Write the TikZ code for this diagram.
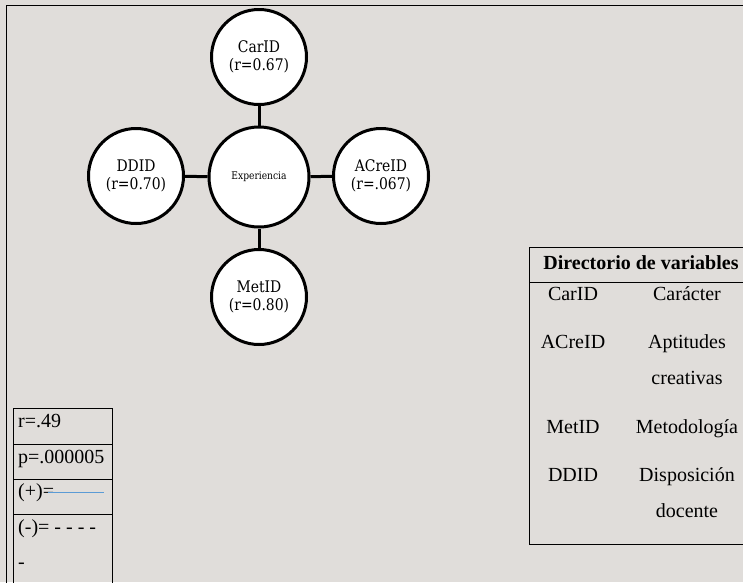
\documentclass[tikz,border=0pt]{standalone}
\usepackage{fontspec}
\setmainfont{Liberation Serif}
\newfontfamily\circfont[FakeStretch=0.87]{DejaVu Serif}
\definecolor{paper}{RGB}{224,221,218}
\definecolor{posline}{RGB}{91,155,213}
\tikzset{
  varcircle/.style={circle, draw=black, line width=3pt, fill=white, inner sep=0pt,
    minimum size=95pt, align=center, font=\circfont\fontsize{16}{18}\selectfont},
  hubcircle/.style={varcircle, minimum size=100pt, font=\circfont\fontsize{10.5}{12}\selectfont},
  link/.style={line width=3pt},
  rule/.style={line width=1pt, black},
  cell/.style={inner sep=0pt, font=\fontsize{20}{24}\selectfont},
}
\begin{document}
\begin{tikzpicture}[x=1pt, y=-1pt]
  % canvas
  \useasboundingbox (0,0) rectangle (743,582);
  \clip (0,0) rectangle (743,582);
  \fill[paper] (0,0) rectangle (743,582);
  % outer frame (open to the right and bottom)
  \draw[rule] (6,600) -- (6,5) -- (760,5);

  % variables around the hub
  \node[hubcircle] (exp) at (259,177) {Experiencia};
  \node[varcircle] (car) at (259,57) {CarID\\(r=0.67)};
  \node[varcircle] (met) at (259,297) {MetID\\(r=0.80)};
  \node[varcircle] (dd) at (136,176) {DDID\\(r=0.70)};
  \node[varcircle] (acre) at (381,176) {ACreID\\(r=.067)};
  \draw[link] (exp) -- (car);
  \draw[link] (exp) -- (met);
  \draw[link] (exp) -- (dd);
  \draw[link] (exp) -- (acre);

  % statistics legend (bottom left)
  \draw[rule] (13,600) -- (13,408) -- (112,408) -- (112,600);
  \draw[rule] (13,444) -- (112,444);
  \draw[rule] (13,479) -- (112,479);
  \draw[rule] (13,514) -- (112,514);
  \node[cell, anchor=base west] (rval) at (18,427) {r=.49};
  \node[cell, anchor=base west] (pval) at (18,463) {p=.000005};
  \node[cell, anchor=base west] (pos) at (18,497) {(+)=};
  \coordinate (posend) at (104,492);
  \draw[posline, line width=1pt] (pos.east |- posend) ++(-6,0) -- (posend);
  \node[cell, anchor=base west] (neg) at (18,533) {(-)= - - - -};
  \node[cell, anchor=base west] (negtail) at (18,568) {-};

  % variable directory (bottom right)
  \draw[rule] (760,247) -- (529,247) -- (529,544) -- (760,544);
  \draw[rule] (529,282) -- (760,282);
  \node[cell, anchor=base, font=\bfseries\fontsize{20}{24}\selectfont] (dirhead) at (641,269) {Directorio de variables};
  \node[cell, anchor=base] (k1) at (573,300) {CarID};
  \node[cell, anchor=base] (v1) at (687,300) {Carácter};
  \node[cell, anchor=base] (k2) at (573,348) {ACreID};
  \node[cell, anchor=base] (v2) at (687,348) {Aptitudes};
  \node[cell, anchor=base] (v2b) at (687,384) {creativas};
  \node[cell, anchor=base] (k3) at (573,433) {MetID};
  \node[cell, anchor=base] (v3) at (687,433) {Metodología};
  \node[cell, anchor=base] (k4) at (573,481) {DDID};
  \node[cell, anchor=base] (v4) at (687,481) {Disposición};
  \node[cell, anchor=base] (v4b) at (687,517) {docente};
\end{tikzpicture}
\end{document}
